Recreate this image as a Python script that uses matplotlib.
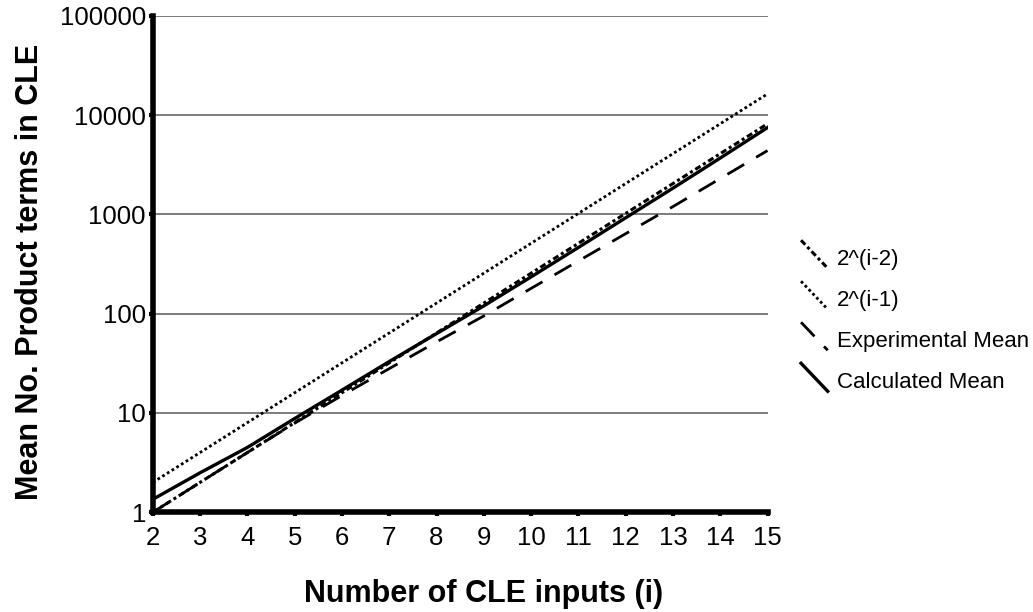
import matplotlib
matplotlib.use('Agg')
import matplotlib.pyplot as plt
from matplotlib.legend_handler import HandlerLine2D
from matplotlib.lines import Line2D

plt.rcParams['font.family'] = ['Liberation Sans', 'DejaVu Sans']

inputs = [2, 3, 4, 5, 6, 7, 8, 9, 10, 11, 12, 13, 14, 15]
pow_i_minus_2 = [2 ** (i - 2) for i in inputs]
pow_i_minus_1 = [2 ** (i - 1) for i in inputs]
experimental_mean = [1.0, 2.0, 4.0, 7.9, 15, 28, 52, 95, 180, 340, 640, 1200, 2300, 4400]
calculated_mean = [1.35, 2.5, 4.5, 8.8, 17, 33, 63, 120, 235, 465, 925, 1840, 3700, 7500]
y_ticks = [1, 10, 100, 1000, 10000, 100000]


class DiagonalHandler(HandlerLine2D):
    # Excel-style legend key: a short diagonal line from top-left to bottom-right
    def create_artists(self, legend, orig_handle, xdescent, ydescent,
                       width, height, fontsize, trans):
        line = Line2D([-xdescent, -xdescent + width],
                      [-ydescent + height * 1.6, -ydescent - height * 0.2])
        self.update_prop(line, orig_handle, legend)
        line.set_transform(trans)
        return [line]


fig = plt.figure(figsize=(10.33, 6.12), dpi=100)
ax = fig.add_axes([0.148, 0.163, 0.595, 0.811])

ax.plot(inputs, pow_i_minus_2, color='black', lw=2.2, linestyle=(0, (2, 1, 1, 1)),
        label='2^(i-2)', zorder=3)
ax.plot(inputs, pow_i_minus_1, color='black', lw=2.0, linestyle=(0, (1, 1)),
        label='2^(i-1)', zorder=3)
ax.plot(inputs, experimental_mean, color='black', lw=2.0, linestyle=(0, (7, 5)),
        label='Experimental Mean', zorder=3)
ax.plot(inputs, calculated_mean, color='black', lw=2.4, linestyle='-',
        label='Calculated Mean', zorder=3)

ax.set_yscale('log')
ax.set_xlim(2, 15)
ax.set_ylim(1, 100000)
ax.set_xticks(inputs)
ax.set_yticks(y_ticks)
ax.set_yticklabels([str(v) for v in y_ticks])
ax.minorticks_off()

for v in y_ticks[1:]:
    ax.axhline(v, color='#666666', lw=1.2, zorder=1)

for side in ['top', 'right']:
    ax.spines[side].set_visible(False)
for side in ['left', 'bottom']:
    ax.spines[side].set_linewidth(4)
    ax.spines[side].set_color('black')

ax.tick_params(axis='both', which='major', direction='out', length=3, width=3,
               labelsize=18.5, colors='black')
ax.tick_params(axis='x', pad=7)
ax.tick_params(axis='y', pad=2)

ax.set_xlabel('Number of CLE inputs (i)', fontsize=22, fontweight='bold')
ax.set_ylabel('Mean No. Product terms in CLE', fontsize=22, fontweight='bold')
ax.xaxis.set_label_coords(0.538, -0.135)
ax.yaxis.set_label_coords(-0.176, 0.484)

handles, labels = ax.get_legend_handles_labels()
ax.legend(handles, labels, loc='center left', bbox_to_anchor=(1.022, 0.385),
          frameon=False, fontsize=16, handlelength=1.2, handletextpad=0.4,
          labelspacing=0.9, handler_map={Line2D: DiagonalHandler()})

fig.savefig('out.png', dpi=100, facecolor='white')
